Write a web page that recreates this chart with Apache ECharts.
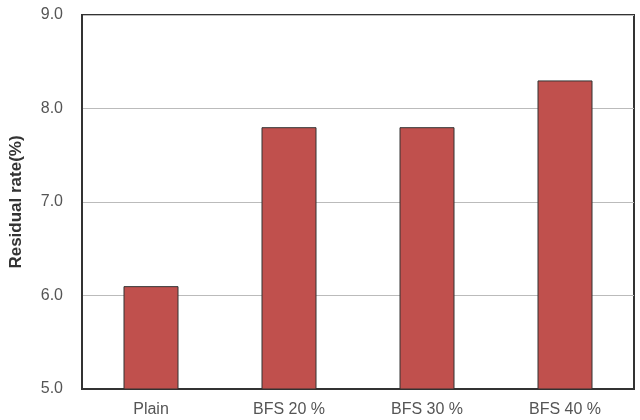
<!DOCTYPE html>
<html><head><meta charset="utf-8">
<script src="https://cdn.jsdelivr.net/npm/echarts@6/dist/echarts.min.js"></script>
<style>html,body{margin:0;padding:0;background:#fff}#c{width:640px;height:420px}</style>
</head><body><div id="c"></div>
<script>
const categories = ["Plain", "BFS 20 %", "BFS 30 %", "BFS 40 %"];
const values = [6.1, 7.8, 7.8, 8.3];
const yTicks = [5.0, 6.0, 7.0, 8.0, 9.0];

const chart = echarts.init(document.getElementById('c'), null, {renderer: 'canvas'});
chart.setOption({
  animation: false,
  backgroundColor: '#fff',
  grid: {left: 81, right: 6, top: 15, bottom: 31, show: true, borderColor: '#333', borderWidth: 2},
  xAxis: {
    type: 'category', data: categories,
    axisLine: {show: true, lineStyle: {color: '#333', width: 2}},
    axisTick: {show: false},
    axisLabel: {color: '#555', fontSize: 16, fontFamily: 'Liberation Sans, Arial', margin: 13}
  },
  yAxis: {
    type: 'value', min: yTicks[0], max: yTicks[yTicks.length - 1], interval: 1,
    name: 'Residual rate(%)', nameLocation: 'middle', nameGap: 57,
    nameTextStyle: {fontWeight: 'bold', fontSize: 17, color: '#333', fontFamily: 'Liberation Sans, Arial'},
    axisLine: {show: true, lineStyle: {color: '#333', width: 2}},
    axisTick: {show: false},
    axisLabel: {color: '#555', fontSize: 16, fontFamily: 'Liberation Sans, Arial', margin: 19,
      formatter: v => v.toFixed(1)},
    splitLine: {lineStyle: {color: '#bbb', width: 1}}
  },
  series: [{
    type: 'bar', data: values, barWidth: 55,
    itemStyle: {color: '#C0504D', borderColor: '#333', borderWidth: 1}
  }]
});
</script></body></html>
